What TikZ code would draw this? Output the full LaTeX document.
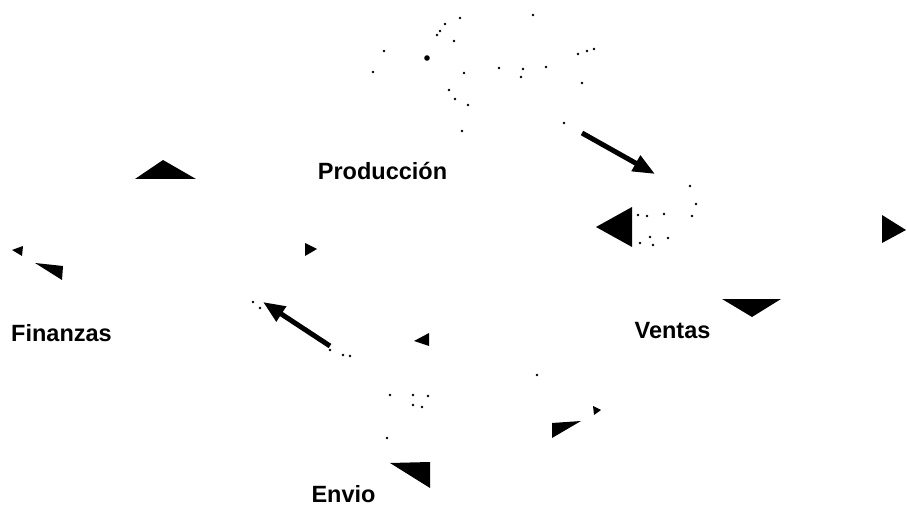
\documentclass[tikz,border=0pt]{standalone}
\usepackage{fontspec}
\setmainfont{Liberation Sans}
\usetikzlibrary{arrows.meta}
\begin{document}
\begin{tikzpicture}[x=1pt,y=-1pt,
  lbl/.style={font=\fontsize{23.5}{26}\selectfont\bfseries, anchor=base, inner sep=0pt},
  tri/.style={fill=black},
  speck/.style={fill=black},
  bigarrow/.style={line width=5pt, -{Triangle[length=22pt,width=17pt]}}]
\useasboundingbox (0,0) rectangle (907,521);
% labels
\node[lbl] (prod) at (382.5,180) {Producción};
\node[lbl] (fin)  at (61.5,341) {Finanzas};
\node[lbl] (ven)  at (672.5,338) {Ventas};
\node[lbl] (env)  at (343.5,502) {Envio};
% visible arrows
\coordinate (a1s) at (582,133);
\coordinate (a1e) at (655,174);
\draw[bigarrow] (a1s) -- (a1e);
\coordinate (a2s) at (330,346);
\coordinate (a2e) at (263,302);
\draw[bigarrow] (a2s) -- (a2e);
% remaining arrowheads
\fill[tri] (163,160) -- (196,179) -- (135,179) -- cycle;
\fill[tri] (12,250) -- (23,246) -- (22,256) -- cycle;
\fill[tri] (35,263) -- (63,266) -- (62,280) -- cycle;
\fill[tri] (317,249) -- (305,243) -- (305,256) -- cycle;
\fill[tri] (596,227) -- (632,207) -- (632,247) -- cycle;
\fill[tri] (906,230) -- (882,215) -- (882,243) -- cycle;
\fill[tri] (722,299) -- (781,299) -- (752,317) -- cycle;
\fill[tri] (414,341) -- (429,333) -- (429,346) -- cycle;
\fill[tri] (552,423) -- (581,421) -- (552,438) -- cycle;
\fill[tri] (601,410) -- (593,406) -- (594,415) -- cycle;
\fill[tri] (390,463) -- (430,462) -- (430,488) -- cycle;
% specks
\foreach \p in {(460,18),(533,15),(445,24),(440,31),(437,35),(454,41),(384,51),
  (373,72),(464,73),(499,68),(523,69),(521,77),(546,67),(578,54),(587,51),(594,49),
  (582,83),(449,90),(455,99),(468,105),(564,123),(462,131),
  (690,186),(696,204),(692,216),(664,214),(638,215),(647,216),(668,238),(650,237),
  (653,245),(640,243),
  (253,302),(260,308),(330,350),(343,355),(350,356),(537,375),(390,395),(413,395),
  (428,396),(413,405),(422,407),(387,438)}
  \fill[speck] \p circle (1.3);
\fill[speck] (427,58) circle (2.8);
\end{tikzpicture}
\end{document}
